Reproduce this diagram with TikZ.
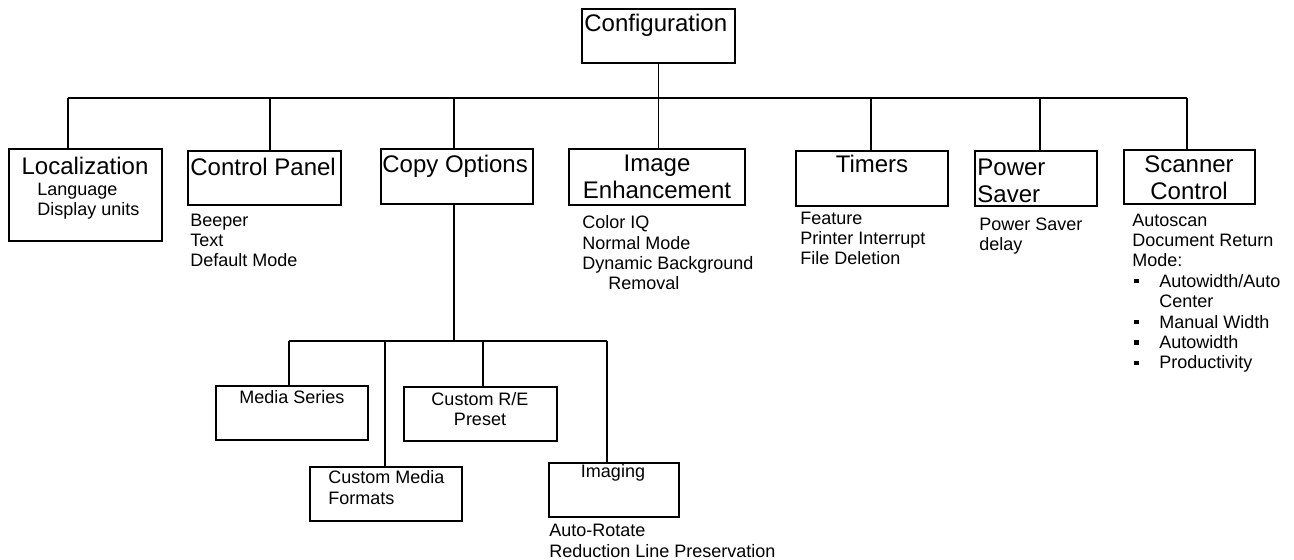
\documentclass[tikz,border=0pt]{standalone}
\usepackage{fontspec}
\setmainfont{Liberation Sans}
\newcommand\sqbul{\makebox[13.5pt][l]{\hspace{1pt}\rule[2pt]{2.2pt}{2.2pt}}}
\begin{document}
\begin{tikzpicture}[
    x=0.5pt, y=-0.5pt,
    box/.style={draw, line width=0.6pt, inner sep=0pt},
    head/.style={inner sep=0pt, font=\fontsize{12}{13.5}\selectfont, align=center, anchor=base},
    note/.style={inner sep=0pt, font=\fontsize{9}{10.2}\selectfont, align=left, anchor=base west},
    sub/.style={note, anchor=base, align=center},
    link/.style={line width=0.6pt}
  ]
  \useasboundingbox (0,0) rectangle (1294,560);
  % text nodes sit on the baseline of their last line

  % Top
  \node[box, minimum width=76.5pt, minimum height=27pt] (conf) at (658.5,36) {};
  \node[head, anchor=base west] (conf-t) at (584,32) {Configuration};

  % Second row
  \node[box, minimum width=76.5pt, minimum height=46pt] (loc) at (85.5,195) {};
  \node[head] (loc-t) at (85,175) {Localization};
  \node[note] (loc-n) at (37,215.5) {Language\\Display units};

  \node[box, minimum width=76.5pt, minimum height=27pt] (ctrl) at (264.5,178) {};
  \node[head, anchor=base west] (ctrl-t) at (190,176) {Control Panel};
  \node[note] (ctrl-n) at (190,267) {Beeper\\Text\\Default Mode};

  \node[box, minimum width=76pt, minimum height=27.5pt] (copy) at (457,176.5) {};
  \node[head, anchor=base west] (copy-t) at (382,173) {Copy Options};

  \node[box, minimum width=88pt, minimum height=28pt] (enh) at (657,177) {};
  \node[head] (enh-t) at (657,199) {Image\\Enhancement};
  \node[note] (enh-n) at (582,290)
    {Color IQ\\Normal Mode\\Dynamic Background\\\hspace*{13pt}Removal};

  \node[box, minimum width=76pt, minimum height=27.5pt] (tim) at (872,178.5) {};
  \node[head] (tim-t) at (872,173) {Timers};
  \node[note] (tim-n) at (800,265) {Feature\\Printer Interrupt\\File Deletion};

  \node[box, minimum width=61pt, minimum height=27.5pt] (pow) at (1036,178.5) {};
  \node[head, anchor=base west, align=left] (pow-t) at (977,203) {Power\\Saver};
  \node[note] (pow-n) at (979,250.5) {Power Saver\\delay};

  \node[box, minimum width=65.5pt, minimum height=27pt] (scan) at (1189.5,177) {};
  \node[head] (scan-t) at (1189,200) {Scanner\\Control};
  \node[note] (scan-n) at (1132,369)
    {Autoscan\\Document Return\\Mode:\\\sqbul Autowidth/Auto\\\hspace*{13.5pt}Center\\
     \sqbul Manual Width\\\sqbul Autowidth\\\sqbul Productivity};

  % Copy options children
  \node[box, minimum width=76pt, minimum height=27pt] (media) at (292,413) {};
  \node[sub] (media-t) at (292,404) {Media Series};

  \node[box, minimum width=76.5pt, minimum height=27pt] (cre) at (480.5,414) {};
  \node[sub] (cre-t) at (480,425.5) {Custom R/E\\Preset};

  \node[box, minimum width=76pt, minimum height=27pt] (cmf) at (386,494) {};
  \node[note] (cmf-t) at (328,504) {Custom Media\\Formats};

  \node[box, minimum width=65pt, minimum height=27pt] (img) at (614,490) {};
  \node[sub] (img-t) at (613,478) {Imaging};
  \node[note] (img-n) at (549,557) {Auto-Rotate\\Reduction Line Preservation};

  % Tree lines
  \foreach \x/\n in {68/loc, 270/ctrl, 454/copy, 871/tim, 1040/pow, 1187/scan}
    {\coordinate (bus-\n) at (\x,98);
     \draw[link] (bus-\n) -- (bus-\n |- \n.north);}
  \draw[link] (bus-loc) -- (bus-scan);
  \draw[link] (conf.south) -- (conf.south |- enh.north);

  \coordinate (sub) at (454,341);
  \draw[link] (sub |- copy.south) -- (sub);
  \foreach \x/\n in {289/media, 385/cmf, 483/cre, 607/img}
    {\coordinate (sub-\n) at (\x,341);
     \draw[link] (sub-\n) -- (sub-\n |- \n.north);}
  \draw[link] (sub-media) -- (sub-img);
\end{tikzpicture}
\end{document}
